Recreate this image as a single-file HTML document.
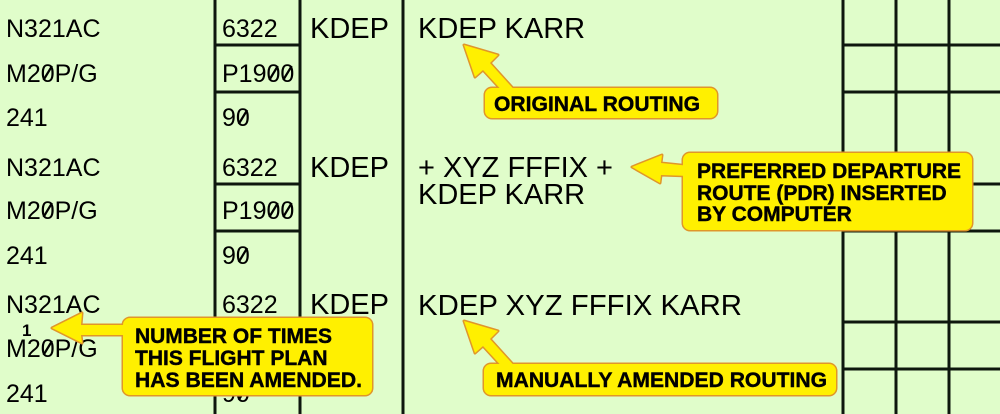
<!DOCTYPE html>
<html><head><meta charset="utf-8"><style>
html,body{margin:0;padding:0;background:#E0FDCA;}
svg{display:block;}
text{font-family:"Liberation Sans",Arial,sans-serif;fill:#000;}
.s{font-size:25px;}
.b{font-size:29px;}
.c{font-size:21px;font-weight:bold;stroke:#000;stroke-width:0.4px;}
</style></head><body>
<svg width="1000" height="414" viewBox="0 0 1000 414" xmlns="http://www.w3.org/2000/svg">
<rect width="1000" height="414" fill="#E0FDCA"/>
<g stroke="#0e170e" stroke-width="3">
<line x1="215" y1="0" x2="215" y2="414"/>
<line x1="300" y1="0" x2="300" y2="414"/>
<line x1="403" y1="0" x2="403" y2="414"/>
<line x1="843" y1="0" x2="843" y2="414"/>
<line x1="896" y1="0" x2="896" y2="414"/>
<line x1="949" y1="0" x2="949" y2="414"/>
<line x1="215" y1="45" x2="300" y2="45"/>
<line x1="215" y1="92" x2="300" y2="92"/>
<line x1="215" y1="184" x2="300" y2="184"/>
<line x1="215" y1="231" x2="300" y2="231"/>
<line x1="215" y1="322" x2="300" y2="322"/>
<line x1="215" y1="369" x2="300" y2="369"/>
<line x1="843" y1="45" x2="1000" y2="45"/>
<line x1="843" y1="92" x2="1000" y2="92"/>
<line x1="843" y1="184" x2="1000" y2="184"/>
<line x1="843" y1="231" x2="1000" y2="231"/>
<line x1="843" y1="322" x2="1000" y2="322"/>
<line x1="843" y1="369" x2="1000" y2="369"/>
</g>
<!-- left column -->
<text class="s" x="6" y="37">N321AC</text>
<text class="s" x="6" y="82">M20P/G</text>
<text class="s" x="6" y="126">241</text>
<text class="s" x="6" y="176">N321AC</text>
<text class="s" x="6" y="219">M20P/G</text>
<text class="s" x="6" y="264">241</text>
<text class="s" x="6" y="313">N321AC</text>
<text x="22" y="336" style="font-size:17px;font-weight:bold">1</text>
<text class="s" x="6" y="357">M20P/G</text>
<text class="s" x="6" y="402">241</text>
<!-- middle column -->
<text class="s" x="222" y="37">6322</text>
<text class="s" x="222" y="82">P1900</text>
<text class="s" x="222" y="126">90</text>
<text class="s" x="222" y="176">6322</text>
<text class="s" x="222" y="219">P1900</text>
<text class="s" x="222" y="264">90</text>
<text class="s" x="222" y="313">6322</text>
<text class="s" x="222" y="357">P1900</text>
<text class="s" x="222" y="402">90</text>
<!-- slashes for slashed zeros -->
<g fill="none" stroke="#000" stroke-width="2.2">
<line x1="43.5" y1="80" x2="52" y2="66"/>
<line x1="43.5" y1="217" x2="52" y2="203"/>
<line x1="43.5" y1="355" x2="52" y2="341"/>
<line x1="269.3" y1="80" x2="277.8" y2="66"/><line x1="283.2" y1="80" x2="291.7" y2="66"/>
<line x1="269.3" y1="217" x2="277.8" y2="203"/><line x1="283.2" y1="217" x2="291.7" y2="203"/>
<line x1="269.3" y1="355" x2="277.8" y2="341"/><line x1="283.2" y1="355" x2="291.7" y2="341"/>
<line x1="238.7" y1="124" x2="247.2" y2="110"/>
<line x1="238.7" y1="262" x2="247.2" y2="248"/>
<line x1="238.7" y1="400" x2="247.2" y2="386"/>
</g>
<!-- KDEP column -->
<text class="b" x="310" y="38">KDEP</text>
<text class="b" x="310" y="177">KDEP</text>
<text class="b" x="310" y="314">KDEP</text>
<!-- route column -->
<text class="b" x="418" y="38">KDEP KARR</text>
<text class="b" x="418" y="177">+ XYZ FFFIX +</text>
<text class="b" x="418" y="204">KDEP KARR</text>
<text class="b" x="418" y="315" textLength="324" lengthAdjust="spacingAndGlyphs">KDEP XYZ FFFIX KARR</text>

<!-- callouts: outlines first -->
<g fill="#FFF000" stroke="#E0962A" stroke-width="3" stroke-linejoin="round">
<rect x="485" y="88" width="232" height="30" rx="7"/>
<polygon points="464,45 498,55 490,63 519,95 506,95 483,70 475,77"/>
<rect x="683" y="153" width="289" height="77" rx="7"/>
<polygon points="632,167 662,155 661,163 690,166 690,176 661,175 660,183"/>
<rect x="123" y="318" width="249" height="77" rx="7"/>
<polygon points="52,328 82,313 81,325 130,325 130,335 81,335 82,343"/>
<rect x="484" y="364" width="352" height="31" rx="7"/>
<polygon points="464,321 498,331 490,339 519,371 506,371 483,346 475,353"/>
</g>
<g fill="#FFF000" stroke="none">
<rect x="485" y="88" width="232" height="30" rx="7"/>
<polygon points="464,45 498,55 490,63 519,95 506,95 483,70 475,77"/>
<rect x="683" y="153" width="289" height="77" rx="7"/>
<polygon points="632,167 662,155 661,163 690,166 690,176 661,175 660,183"/>
<rect x="123" y="318" width="249" height="77" rx="7"/>
<polygon points="52,328 82,313 81,325 130,325 130,335 81,335 82,343"/>
<rect x="484" y="364" width="352" height="31" rx="7"/>
<polygon points="464,321 498,331 490,339 519,371 506,371 483,346 475,353"/>
</g>
<text class="c" x="494" y="111" textLength="206" lengthAdjust="spacingAndGlyphs">ORIGINAL ROUTING</text>
<text class="c" x="697" y="178" textLength="264" lengthAdjust="spacingAndGlyphs">PREFERRED DEPARTURE</text>
<text class="c" x="697" y="200">ROUTE (PDR) INSERTED</text>
<text class="c" x="697" y="221">BY COMPUTER</text>
<text class="c" x="135" y="343" textLength="197" lengthAdjust="spacingAndGlyphs">NUMBER OF TIMES</text>
<text class="c" x="135" y="365">THIS FLIGHT PLAN</text>
<text class="c" x="135" y="387" textLength="227" lengthAdjust="spacingAndGlyphs">HAS BEEN AMENDED.</text>
<text class="c" x="496" y="387" textLength="331" lengthAdjust="spacingAndGlyphs">MANUALLY AMENDED ROUTING</text>
</svg>
</body></html>
